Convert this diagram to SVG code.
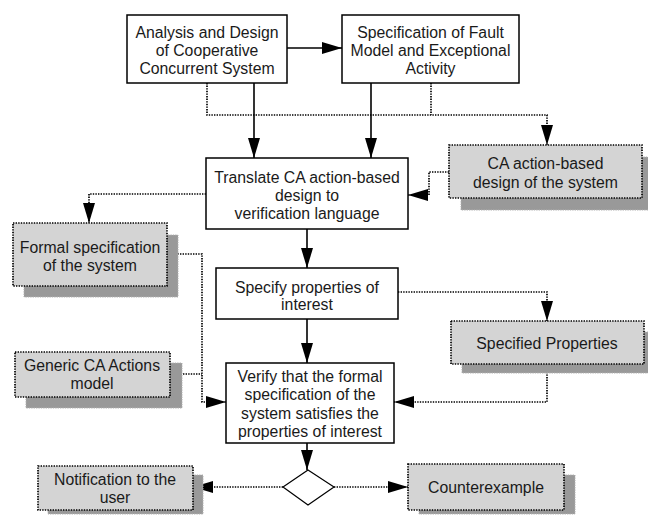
<svg xmlns="http://www.w3.org/2000/svg" width="648" height="515" viewBox="0 0 648 515">
<style>
.box{fill:#fff;stroke:#000;stroke-width:1.5}
.dbox{fill:#d4d4d4;stroke:#000;stroke-width:1.7;stroke-dasharray:1.4 1.2}
.sh{fill:#999;stroke:#b0b0b0;stroke-width:1;stroke-dasharray:1.4 1}
.t{font-family:"Liberation Sans",Arial,sans-serif;font-size:15.8px;fill:#1a1a1a;text-anchor:middle}
.s{fill:none;stroke:#000;stroke-width:1.6}
.d{fill:none;stroke:#000;stroke-width:1.7;stroke-dasharray:1.4 1.2}
</style>
<defs>
<marker id="ar" markerUnits="userSpaceOnUse" markerWidth="20" markerHeight="14" refX="20" refY="7" orient="auto">
<path d="M0,1 L20,7 L0,13 z" fill="#000"/>
</marker>
</defs>
<rect width="648" height="515" fill="#fff"/>
<g id="connectors">
<path class="s" d="M287,48 L342,48" marker-end="url(#ar)"/>
<path class="s" d="M254,83 L254,158" marker-end="url(#ar)"/>
<path class="s" d="M371,83 L371,158" marker-end="url(#ar)"/>
<path class="d" d="M207,83 L207,115 L547,115 L547,145" marker-end="url(#ar)"/>
<path class="d" d="M431,83 L431,115"/>
<path class="d" d="M449,172 L429,172 L429,195 L408,195" marker-end="url(#ar)"/>
<path class="d" d="M206,194 L89,194 L89,223" marker-end="url(#ar)"/>
<path class="s" d="M307,229 L307,268" marker-end="url(#ar)"/>
<path class="d" d="M398,292 L547,292 L547,321" marker-end="url(#ar)"/>
<path class="s" d="M307,319 L307,363" marker-end="url(#ar)"/>
<path class="d" d="M167,254 L202,254 L202,402 L226,402" marker-end="url(#ar)"/>
<path class="d" d="M170,374 L202,374"/>
<path class="d" d="M547,364 L547,402 L394,402" marker-end="url(#ar)"/>
<path class="s" d="M307,443 L307,470" marker-end="url(#ar)"/>
<path class="d" d="M283,487 L193,487" marker-end="url(#ar)"/>
<path class="d" d="M334,487 L408,487" marker-end="url(#ar)"/>
</g>
<g id="analysis">
<rect class="box" x="127" y="15" width="160" height="68"/>
<text class="t" x="207" y="38">Analysis and Design</text>
<text class="t" x="207" y="56">of Cooperative</text>
<text class="t" x="207" y="74">Concurrent System</text>
</g>
<g id="fault">
<rect class="box" x="342" y="15" width="177" height="68"/>
<text class="t" x="430.5" y="38">Specification of Fault</text>
<text class="t" x="430.5" y="56">Model and Exceptional</text>
<text class="t" x="430.5" y="74">Activity</text>
</g>
<g id="translate">
<rect class="box" x="206" y="158" width="202" height="71"/>
<text class="t" x="307" y="183">Translate CA action-based</text>
<text class="t" x="307" y="201">design to</text>
<text class="t" x="307" y="219">verification language</text>
</g>
<g id="cadesign">
<rect class="sh" x="461" y="157" width="193" height="53"/>
<rect class="dbox" x="449" y="145" width="193" height="53"/>
<text class="t" x="545.5" y="169">CA action-based</text>
<text class="t" x="545.5" y="188">design of the system</text>
</g>
<g id="formal">
<rect class="sh" x="24" y="235" width="154" height="62"/>
<rect class="dbox" x="13" y="223" width="154" height="63"/>
<text class="t" x="90" y="253">Formal specification</text>
<text class="t" x="90" y="271">of the system</text>
</g>
<g id="specify">
<rect class="box" x="216" y="268" width="182" height="51"/>
<text class="t" x="307" y="293">Specify properties of</text>
<text class="t" x="307" y="310">interest</text>
</g>
<g id="specified">
<rect class="sh" x="462" y="332" width="193" height="41"/>
<rect class="dbox" x="451" y="321" width="193" height="43"/>
<text class="t" x="547" y="349">Specified Properties</text>
</g>
<g id="generic">
<rect class="sh" x="26" y="363" width="156" height="45"/>
<rect class="dbox" x="15" y="352" width="155" height="45"/>
<text class="t" x="92" y="371">Generic CA Actions</text>
<text class="t" x="92" y="389">model</text>
</g>
<g id="verify">
<rect class="box" x="226" y="363" width="168" height="80"/>
<text class="t" x="310" y="382">Verify that the formal</text>
<text class="t" x="310" y="400">specification of the</text>
<text class="t" x="310" y="419">system satisfies the</text>
<text class="t" x="310" y="437">properties of interest</text>
</g>
<g id="decision">
<polygon points="308,470 334,487 308,505 283,487" fill="#fff" stroke="#000" stroke-width="1.2"/>
</g>
<g id="notification">
<rect class="sh" x="48" y="475" width="155" height="39"/>
<rect class="dbox" x="38" y="466" width="155" height="44"/>
<text class="t" x="115" y="485">Notification to the</text>
<text class="t" x="115" y="503">user</text>
</g>
<g id="counterexample">
<rect class="sh" x="419" y="475" width="156" height="39"/>
<rect class="dbox" x="408" y="464" width="156" height="46"/>
<text class="t" x="486" y="493">Counterexample</text>
</g>
</svg>
